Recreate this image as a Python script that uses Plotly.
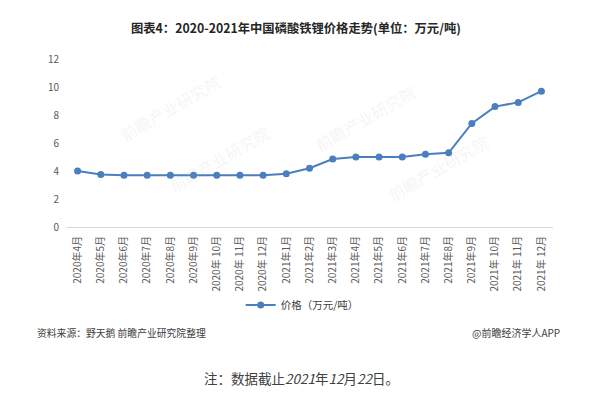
import plotly.graph_objects as go

months = ["2020年4月", "2020年5月", "2020年6月", "2020年7月", "2020年8月", "2020年9月",
          "2020年 10月", "2020年 11月", "2020年 12月",
          "2021年1月", "2021年2月", "2021年3月", "2021年4月", "2021年5月", "2021年6月",
          "2021年7月", "2021年8月", "2021年9月", "2021年 10月", "2021年 11月", "2021年 12月"]
prices = [4.0, 3.75, 3.7, 3.7, 3.7, 3.7, 3.7, 3.7, 3.7, 3.8, 4.2, 4.85,
          5.0, 5.0, 5.0, 5.2, 5.3, 7.4, 8.6, 8.9, 9.7]
y_ticks = [0, 2, 4, 6, 8, 10, 12]

FONT = "Noto Sans CJK SC, Microsoft YaHei, sans-serif"
LINE_COLOR = "#4a7ebf"

# plot area in pixels
PL, PR, PT, PB = 66, 553, 58.5, 227.5


def px_x(v):
    return (v - PL) / (PR - PL)


def px_y(v):
    return (PB - v) / (PB - PT)


fig = go.Figure()
fig.add_trace(go.Scatter(
    x=months, y=prices, mode="lines+markers", name="价格（万元/吨）",
    line=dict(color=LINE_COLOR, width=2),
    marker=dict(color=LINE_COLOR, size=7),
))

annotations = []
# faint watermarks
for (wx, wy) in [(113, 66), (365, 76), (162, 200), (495, 168)]:
    annotations.append(dict(
        text="前瞻产业研究院", x=px_x(wx), y=px_y(wy), xref="paper", yref="paper",
        showarrow=False, textangle=-30,
        font=dict(family=FONT, size=16, color="rgba(170,180,190,0.14)"),
    ))

annotations += [
    dict(text="<b>图表4：2020-2021年中国磷酸铁锂价格走势(单位：万元/吨)</b>",
         x=px_x(296), y=px_y(27), xref="paper", yref="paper", showarrow=False,
         yanchor="middle", font=dict(family=FONT, size=12.3, color="#262626")),
    dict(text="资料来源：野天鹅 前瞻产业研究院整理", x=px_x(35), y=px_y(334),
         xanchor="left", yanchor="middle", xref="paper", yref="paper", showarrow=False,
         font=dict(family=FONT, size=9.8, color="#404040")),
    dict(text="@前瞻经济学人APP", x=px_x(562), y=px_y(334), xanchor="right",
         yanchor="middle", xref="paper", yref="paper", showarrow=False,
         font=dict(family=FONT, size=10, color="#404040")),
    dict(text="注：数据截止<i>2021</i>年<i>12</i>月<i>22</i>日。", x=px_x(301), y=px_y(379),
         yanchor="middle", xref="paper", yref="paper", showarrow=False,
         font=dict(family=FONT, size=13.5, color="#404040")),
]

fig.update_layout(
    width=600, height=393, autosize=False,
    margin=dict(l=PL, r=600 - PR, t=PT, b=393 - PB, pad=0),
    paper_bgcolor="white", plot_bgcolor="white",
    font=dict(family=FONT, size=10, color="#595959"),
    showlegend=True,
    legend=dict(orientation="h", x=0.485, y=px_y(306), xanchor="center", yanchor="middle",
                font=dict(family=FONT, size=10.5, color="#404040"),
                bgcolor="rgba(0,0,0,0)"),
    xaxis=dict(type="category", range=[-0.5, len(months) - 0.5], tickangle=-90,
               showgrid=False, zeroline=False, automargin=False,
               showline=True, linecolor="#d9d9d9", linewidth=1, ticks="",
               tickfont=dict(family=FONT, size=10, color="#595959"),
               ticklabelstandoff=4),
    yaxis=dict(range=[0, 12], tickvals=y_ticks, showgrid=False, zeroline=False,
               showline=False, ticks="", automargin=False,
               tickfont=dict(family=FONT, size=10, color="#595959"),
               ticklabelstandoff=6),
    annotations=annotations,
)

fig.write_html("out.html", config={"displayModeBar": False},
               post_script="document.body.style.margin='0';")
